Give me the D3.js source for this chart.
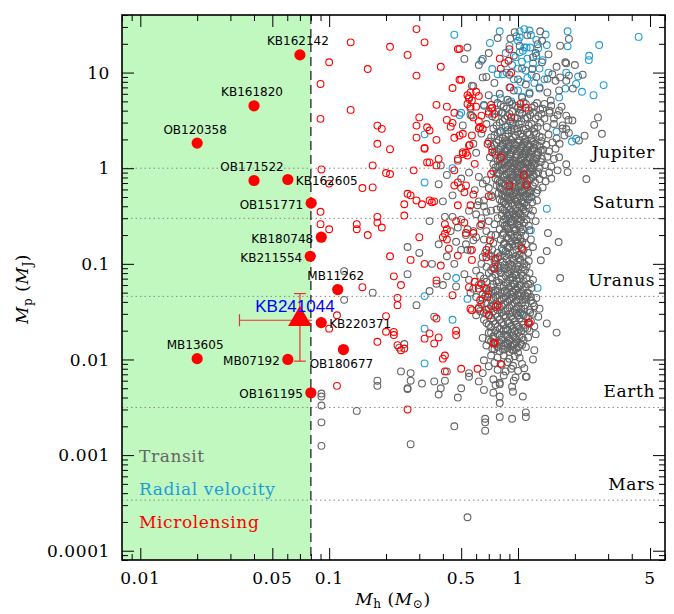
<!DOCTYPE html>
<meta charset="utf-8">
<style>
body { margin: 0; background: #fff; }
.serif { font-family: "DejaVu Serif", serif; font-size: 17px; letter-spacing: 0.6px; }
.name { font-family: "DejaVu Sans", sans-serif; font-size: 12px; fill: #000; }
.planet-line { stroke: #8a8a8a; stroke-width: 1; stroke-dasharray: 1.5,3; }
.tick line { stroke: #000; stroke-width: 1; }
</style>
<body>
<script src="https://d3js.org/d3.v7.min.js"></script>
<script>
var width = 674, height = 614;

// ---- data ----
// microlensing planets hosted by very low-mass stars (named, filled)
var namedLabels = ["KB162142", "KB161820", "OB120358", "OB171522", "KB162605", "OB151771", "KB180748",
                   "KB211554", "MB11262", "KB220371", "MB13605", "MB07192", "OB180677", "OB161195"];
var namedHost   = [0.07, 0.04, 0.02, 0.04, 0.0604, 0.0803, 0.0908, 0.0794, 0.111, 0.0908, 0.02, 0.0604, 0.119, 0.08];
var namedPlanet = [15.3, 4.49, 1.83, 0.744, 0.762, 0.431, 0.19, 0.12, 0.0538, 0.0243, 0.0102, 0.01, 0.0127, 0.00448];
var namedSide   = ["top", "top", "top", "top", "right", "left", "left", "left", "top", "right", "top", "left", "bottom", "left"];

// this event
var thisEvent = {name: "KB241044", mh: 0.07, mp: 0.0257, mhLo: 0.0335, mhHi: 0.081, mpLo: 0.0096, mpHi: 0.0489};

// solar-system reference masses (M_J)
var planetNames  = ["Jupiter", "Saturn", "Uranus", "Earth", "Mars"];
var planetMasses = [1, 0.299, 0.0457, 0.00315, 0.000338];

var brownDwarfLimit = 0.08;

var xTickLabels = [0.01, 0.05, 0.1, 0.5, 1, 5];
var yTickLabels = [0.0001, 0.001, 0.01, 0.1, 1, 10];

// known planets [host mass (Msun), planet mass (MJ)]
var radialVelocity = [
  [0.46,24.9],[0.8,27],[0.71,20.4],[1.02,27],[1.08,28.5],[1.15,27.5],[1.17,24.7],[1.0,21.5],[1.02,23.3],
  [1.08,18.3],[1.11,18.3],[1.16,18.3],[1.06,16.9],[1.02,16.3],[1.83,27],[1.42,19.4],[1.83,18.8],[2.69,19.4],
  [4.35,23.6],[2.38,15],[2.37,13.5],[1.8,10],[2.08,9.1],[2.03,7.6],[2.18,6.3],[2.51,5.8],[2.84,7.4],[1.78,6.8],
  [1.65,5.5],[1.6,2.42],[1.93,1.9],[2.03,2.03],[0.64,13.3],[0.73,10.9],[0.78,9.6],[0.83,9.6],[0.87,10],[0.66,4.5],
  [0.75,5.3],[0.81,5.4],[0.83,3.8],[0.88,2.8],[0.94,3.0],[0.8,2.38],[0.5,3.8],[0.49,3.6],[0.32,2.26],
  [0.97,14.5],[1.05,13],[1.12,14],[1.2,12.5],[1.25,15],[0.93,12],[1.0,11],[1.1,10.5],[1.18,9.5],[1.3,11],
  [0.95,8.5],[1.03,8],[1.12,8.8],[1.22,7.8],[0.9,7],[1.0,6.5],[1.15,6.2],[1.3,6.8],[1.05,5.6],[0.92,5],
  [1.38,8.5],[1.45,10],[1.35,13.5],[1.28,18],[0.86,16],[0.9,19],[0.98,24],[1.25,22],[1.4,25],
  [0.32,0.71],[0.45,1.0],[0.47,0.071],[0.32,0.046],[0.54,0.043],[0.45,0.026],[0.32,0.021],[0.32,0.0091],
  [0.88,0.0147],[1.27,0.056],[1.42,0.377],[1.17,0.224],[0.83,0.138],[0.93,0.073],[0.9,0.3],[1.0,0.9],
  [0.85,1.6],[1.1,1.4],[0.95,0.05],[1.05,0.03],[0.88,0.02],[1.15,0.5],[0.8,0.09]
];

var transit = [
  [0.54,18.3],[0.52,13.9],[0.65,13.9],[0.91,22.7],[1.31,27],[1.34,21.5],[1.27,19.8],[1.67,19.1],[1.86,22.5],
  [1.78,12.8],[1.8,12.5],[1.34,12.8],[1.19,10.9],[1.43,8.6],[1.52,9.6],[1.58,8.2],[1.67,8.9],[1.86,9.3],[1.8,8.2],
  [1.65,6.5],[1.43,6.2],[1.49,5.1],[1.38,4.7],[0.58,7.2],[0.55,5.3],[0.56,3.6],[0.58,1.8],[0.6,1.45],[0.62,12],
  [0.7,16],[0.85,12.5],[0.95,15],[1.05,11],[1.0,8.5],[0.9,9.5],[1.1,7.5],[1.25,9],[0.75,7.8],[0.8,6],[0.95,6.5],
  [1.15,6],[1.3,7],[1.05,5.5],[0.88,5.2],[0.7,5.8],[1.2,14.5],[1.45,15.5],[1.6,11.5],[2.0,12],[1.02,19],[0.78,23],
  [1.12,24.5],[0.96,26.5],[1.24,16],[0.68,9],[2.2,9.5],[1.95,6.8],[1.55,3.3],[0.65,8.9],[0.57,7.3],[0.56,4.2],
  [0.57,3.55],[0.51,2.8],[2.65,3.4],[2.53,2.84],[2.78,2.29],[2.25,2.19],[2.1,1.95],[2.3,0.77],[1.8,1.1],[1.65,1.3],
  [1.83,0.91],[1.47,4],[1.65,4],[1.8,3.55],[1.94,3.15],[1.72,2.8],[1.8,2.57],[1.86,2.34],
  // core, y 2-5
  [0.66,4.6],[0.72,4.2],[0.78,4.8],[0.84,4.4],[0.9,4.9],[0.97,4.5],[1.03,4.1],[1.1,4.7],[1.18,4.3],[1.26,4.8],
  [1.35,4.2],[1.5,4.5],[1.7,4.4],[0.7,3.7],[0.76,3.4],[0.82,3.8],[0.88,3.5],[0.93,3.9],[0.99,3.3],[1.05,3.7],
  [1.12,3.4],[1.2,3.8],[1.28,3.5],[1.38,3.3],[1.47,3.8],[1.62,3.6],[1.85,3.2],[0.68,2.9],[0.74,2.6],[0.8,3.0],
  [0.86,2.7],[0.91,3.1],[0.96,2.6],[1.01,2.9],[1.07,2.5],[1.14,2.8],[1.22,2.6],[1.31,3.0],[1.42,2.7],[1.55,2.9],
  [1.72,2.6],[0.64,2.3],[0.72,2.1],[0.78,2.35],[0.83,2.05],[0.89,2.3],[0.94,2.1],[1.0,2.4],[1.06,2.15],[1.12,2.35],
  [1.18,2.05],[1.25,2.3],[1.34,2.1],[1.45,2.25],[1.6,2.05],[1.76,2.2],
  [0.81,4.6],[0.87,4.2],[0.93,4.7],[1.0,4.3],[1.07,4.9],[1.14,4.0],[1.22,4.5],[1.31,4.1],[0.73,3.5],[0.79,3.9],
  [0.85,3.3],[0.9,3.7],[0.96,3.4],[1.02,3.8],[1.09,3.3],[1.16,3.6],[1.24,3.3],[1.33,3.7],[0.77,2.8],[0.83,3.1],
  [0.88,2.5],[0.93,2.8],[0.99,2.6],[1.04,3.1],[1.1,2.6],[1.18,2.9],[1.27,2.7],[0.75,2.2],[0.81,2.45],[0.86,2.15],
  [0.92,2.5],[0.97,2.2],[1.03,2.3],[1.09,2.0],[1.15,2.25],[1.22,2.4],[1.3,2.15],
  // core, y 1-2
  [0.7,1.9],[0.75,1.75],[0.79,1.95],[0.83,1.8],[0.87,1.92],[0.9,1.7],[0.94,1.85],[0.98,1.72],[1.02,1.95],[1.06,1.78],
  [1.1,1.9],[1.15,1.7],[1.2,1.88],[1.26,1.74],[1.33,1.92],[1.41,1.76],[1.52,1.86],[1.66,1.8],[0.73,1.58],[0.77,1.5],
  [0.81,1.62],[0.85,1.48],[0.88,1.6],[0.92,1.45],[0.96,1.58],[1.0,1.5],[1.04,1.63],[1.08,1.46],[1.12,1.57],[1.17,1.5],
  [1.22,1.62],[1.28,1.47],[1.36,1.56],[1.46,1.5],[1.58,1.6],[0.71,1.3],[0.76,1.38],[0.8,1.25],[0.84,1.35],[0.87,1.22],
  [0.91,1.32],[0.95,1.2],[0.99,1.36],[1.03,1.24],[1.07,1.33],[1.11,1.2],[1.16,1.3],[1.21,1.23],[1.27,1.37],[1.34,1.26],
  [1.43,1.32],[1.55,1.25],[0.74,1.1],[0.78,1.04],[0.82,1.13],[0.86,1.02],[0.89,1.09],[0.93,1.0],[0.97,1.12],[1.01,1.04],
  [1.05,1.1],[1.09,1.01],[1.13,1.08],[1.18,1.03],[1.24,1.12],[1.3,1.02],[1.39,1.08],[1.5,1.04],
  [0.72,1.7],[0.77,1.85],[0.81,1.72],[0.85,1.95],[0.89,1.8],[0.92,1.98],[0.96,1.78],[1.0,1.85],[1.04,1.7],[1.08,1.84],
  [1.13,1.8],[1.18,1.95],[1.23,1.8],[1.3,1.7],[0.75,1.45],[0.79,1.56],[0.83,1.42],[0.87,1.52],[0.9,1.4],[0.94,1.55],
  [0.98,1.42],[1.02,1.54],[1.06,1.4],[1.1,1.52],[1.14,1.42],[1.19,1.55],[1.25,1.42],[1.32,1.52],[0.78,1.2],[0.82,1.3],
  [0.85,1.15],[0.89,1.27],[0.93,1.14],[0.97,1.28],[1.01,1.17],[1.05,1.29],[1.09,1.15],[1.14,1.26],[1.19,1.16],[1.25,1.27],
  [1.32,1.16],[0.76,1.02],[0.8,1.08],[0.84,1.0],[0.88,1.06],[0.91,1.12],[0.95,1.05],[0.99,1.0],[1.03,1.08],[1.07,1.02],
  [1.11,1.12],[1.16,1.0],[1.21,1.07],
  // core, y 0.5-1
  [0.74,0.93],[0.79,0.88],[0.83,0.95],[0.87,0.86],[0.91,0.92],[0.95,0.84],[0.99,0.9],[1.03,0.83],[1.07,0.94],[1.11,0.87],
  [1.16,0.92],[1.21,0.85],[1.28,0.91],[1.36,0.86],[1.46,0.9],[0.76,0.78],[0.8,0.72],[0.84,0.8],[0.88,0.74],[0.92,0.79],
  [0.96,0.71],[1.0,0.77],[1.04,0.72],[1.08,0.8],[1.12,0.73],[1.17,0.78],[1.23,0.71],[1.3,0.77],[1.4,0.73],[0.77,0.66],
  [0.81,0.61],[0.85,0.67],[0.89,0.6],[0.93,0.65],[0.97,0.59],[1.01,0.64],[1.05,0.58],[1.09,0.66],[1.14,0.6],[1.2,0.65],
  [1.27,0.59],[1.35,0.63],[0.79,0.55],[0.83,0.51],[0.87,0.56],[0.91,0.5],[0.95,0.54],[0.99,0.49],[1.03,0.55],[1.07,0.5],
  [1.12,0.54],[1.18,0.5],[1.25,0.55],[0.72,0.52],[1.5,0.78],[1.62,0.95],[0.68,0.75],[0.7,0.62],
  [0.62,0.81],[0.65,0.69],[0.59,0.59],[0.66,0.46],[0.72,0.36],[0.73,0.5],[0.55,0.36],[0.61,0.41],
  [0.77,0.88],[0.81,0.95],[0.85,0.84],[0.89,0.9],[0.93,0.86],[0.97,0.94],[1.01,0.87],[1.05,0.91],[1.09,0.84],[1.14,0.89],
  [1.19,0.95],[1.25,0.87],[0.78,0.74],[0.82,0.7],[0.86,0.76],[0.9,0.7],[0.94,0.75],[0.98,0.8],[1.02,0.7],[1.06,0.76],
  [1.1,0.7],[1.15,0.75],[1.2,0.81],[0.8,0.63],[0.84,0.58],[0.88,0.64],[0.92,0.58],[0.96,0.63],[1.0,0.58],[1.04,0.66],
  [1.08,0.6],[1.12,0.64],[1.17,0.58],[0.82,0.53],[0.86,0.5],[0.9,0.55],[0.94,0.51],[0.98,0.56],[1.02,0.51],[1.06,0.56],
  [1.1,0.51],[1.15,0.55],
  // core, y 0.25-0.5
  [0.8,0.47],[0.84,0.44],[0.88,0.48],[0.92,0.43],[0.96,0.47],[1.0,0.42],[1.04,0.46],[1.08,0.43],[1.13,0.47],[1.19,0.44],
  [1.26,0.46],[0.81,0.39],[0.85,0.36],[0.89,0.4],[0.93,0.35],[0.97,0.38],[1.01,0.34],[1.05,0.39],[1.09,0.35],[1.14,0.38],
  [1.2,0.36],[0.77,0.37],[0.82,0.32],[0.86,0.3],[0.9,0.33],[0.94,0.29],[0.98,0.32],[1.02,0.28],[1.06,0.31],[1.11,0.29],
  [1.17,0.32],[0.78,0.3],[0.83,0.27],[0.87,0.25],[0.91,0.27],[0.95,0.24],[0.99,0.26],[1.03,0.24],[1.08,0.27],[1.14,0.25],
  [0.75,0.26],[1.24,0.28],[0.62,0.45],[0.66,0.4],[0.6,0.33],[0.64,0.3],[0.68,0.35],[0.7,0.28],[0.63,0.25],[0.68,0.22],
  [0.82,0.45],[0.86,0.42],[0.9,0.46],[0.94,0.41],[0.98,0.45],[1.02,0.4],[1.06,0.44],[1.11,0.41],[0.83,0.37],[0.87,0.34],
  [0.91,0.37],[0.95,0.33],[0.99,0.36],[1.03,0.33],[1.07,0.37],[0.84,0.29],[0.88,0.32],[0.92,0.28],[0.96,0.31],[1.0,0.3],
  [1.04,0.29],[0.85,0.25],[0.89,0.23],[0.93,0.26],[0.97,0.23],[1.01,0.25],[1.06,0.23],
  // core, y 0.12-0.25
  [0.8,0.23],[0.84,0.21],[0.88,0.235],[0.92,0.2],[0.96,0.22],[1.0,0.19],[1.04,0.215],[1.09,0.195],[1.15,0.225],[0.76,0.2],
  [0.81,0.18],[0.85,0.165],[0.89,0.185],[0.93,0.16],[0.97,0.175],[1.01,0.155],[1.05,0.17],[1.1,0.16],[1.17,0.18],[0.74,0.165],
  [0.82,0.145],[0.86,0.135],[0.9,0.15],[0.94,0.13],[0.98,0.14],[1.02,0.125],[1.07,0.14],[1.13,0.13],[0.78,0.13],[1.2,0.15],
  [0.54,0.23],[0.58,0.22],[0.6,0.19],[0.53,0.16],[0.56,0.138],[0.65,0.118],[0.7,0.127],[0.75,0.109],[0.78,0.093],[0.68,0.093],
  [0.64,0.1],[0.72,0.2],[0.66,0.18],[0.7,0.15],[0.73,0.14],[0.67,0.13],[0.72,0.12],[1.42,0.136],[1.64,0.169],[1.44,0.21],[1.32,0.109],
  [0.83,0.2],[0.87,0.19],[0.91,0.21],[0.95,0.19],[0.99,0.2],[1.03,0.185],[0.84,0.16],[0.88,0.15],[0.92,0.17],[0.96,0.155],
  [1.0,0.165],[1.04,0.15],[0.8,0.12],[0.85,0.12],[0.89,0.125],[0.93,0.115],[0.97,0.12],[1.01,0.115],[1.06,0.12],
  // core, y 0.05-0.12
  [0.78,0.115],[0.83,0.105],[0.87,0.112],[0.91,0.1],[0.95,0.108],[0.99,0.098],[1.03,0.11],[1.08,0.1],[1.14,0.107],
  [0.74,0.092],[0.79,0.085],[0.84,0.09],[0.88,0.082],[0.92,0.088],[0.96,0.08],[1.0,0.087],[1.04,0.079],[1.09,0.086],
  [1.15,0.08],[0.7,0.08],[0.73,0.072],[0.77,0.066],[0.82,0.07],[0.86,0.064],[0.9,0.069],[0.94,0.062],[0.98,0.067],
  [1.02,0.06],[1.07,0.066],[1.13,0.061],[1.2,0.068],[0.72,0.057],[0.76,0.053],[0.8,0.058],[0.85,0.052],[0.89,0.056],
  [0.93,0.051],[0.97,0.055],[1.01,0.05],[1.06,0.054],[1.12,0.05],[1.18,0.056],[0.68,0.053],
  [0.6,0.085],[0.63,0.075],[0.66,0.07],[0.62,0.06],[0.58,0.055],[0.65,0.048],[0.55,0.068],[0.52,0.078],[0.6,0.045],
  [0.56,0.05],[0.47,0.058],[1.67,0.071],[1.17,0.045],
  [0.76,0.1],[0.81,0.095],[0.85,0.098],[0.89,0.092],[0.93,0.096],[0.97,0.09],[1.01,0.094],[1.06,0.092],[1.11,0.095],
  [0.72,0.086],[0.76,0.078],[0.81,0.08],[0.86,0.075],[0.9,0.078],[0.94,0.072],[0.98,0.076],[1.02,0.071],[1.06,0.075],
  [1.11,0.071],[0.68,0.065],[0.74,0.061],[0.79,0.064],[0.84,0.059],[0.88,0.062],[0.92,0.058],[0.96,0.061],[1.0,0.056],
  [1.04,0.06],[1.1,0.058],[1.16,0.062],[0.66,0.056],[0.7,0.052],[0.74,0.05],[0.78,0.052],[0.82,0.049],[0.87,0.05],
  [0.91,0.048],[0.95,0.05],[0.99,0.047],[1.04,0.049],[1.09,0.047],[1.14,0.049],
  // core, y 0.025-0.05
  [0.7,0.048],[0.74,0.044],[0.78,0.047],[0.82,0.043],[0.86,0.046],[0.9,0.042],[0.94,0.045],[0.98,0.041],[1.02,0.046],
  [1.06,0.042],[1.11,0.045],[1.17,0.041],[1.25,0.044],[0.65,0.043],[0.68,0.039],[0.72,0.036],[0.76,0.038],[0.8,0.035],
  [0.84,0.038],[0.88,0.034],[0.92,0.037],[0.96,0.033],[1.0,0.036],[1.04,0.034],[1.09,0.037],[1.15,0.033],[1.22,0.036],
  [1.3,0.034],[0.62,0.035],[0.66,0.031],[0.7,0.029],[0.74,0.032],[0.78,0.028],[0.82,0.031],[0.86,0.028],[0.9,0.03],
  [0.94,0.027],[0.98,0.03],[1.02,0.027],[1.07,0.029],[1.13,0.027],[1.2,0.03],[1.28,0.028],[0.6,0.029],
  [1.42,0.0238],[1.6,0.0191],[1.24,0.0184],[1.22,0.0125],[1.2,0.01],[1.08,0.0081],[1.11,0.0066],
  [0.67,0.046],[0.72,0.042],[0.76,0.045],[0.8,0.041],[0.84,0.044],[0.88,0.04],[0.92,0.043],[0.96,0.039],[1.0,0.042],
  [1.05,0.039],[1.1,0.042],[1.2,0.039],[0.64,0.038],[0.7,0.034],[0.74,0.037],[0.78,0.033],[0.82,0.036],[0.86,0.032],
  [0.9,0.035],[0.94,0.031],[0.98,0.034],[1.03,0.031],[1.08,0.034],[1.16,0.031],[0.63,0.032],[0.68,0.03],[0.72,0.027],
  [0.76,0.03],[0.8,0.026],[0.84,0.029],[0.88,0.025],[0.92,0.028],[0.96,0.025],[1.0,0.029],[1.05,0.025],[1.1,0.028],
  [1.17,0.025],
  // core, y 0.012-0.025
  [0.68,0.024],[0.72,0.022],[0.76,0.0235],[0.8,0.021],[0.84,0.023],[0.88,0.0205],[0.92,0.0225],[0.96,0.02],[1.0,0.022],
  [1.04,0.0198],[1.09,0.0215],[1.15,0.02],[1.22,0.0222],[0.7,0.019],[0.74,0.0175],[0.78,0.0185],[0.82,0.017],[0.86,0.018],
  [0.9,0.0165],[0.94,0.0178],[0.98,0.0162],[1.02,0.0175],[1.07,0.016],[1.13,0.017],[0.65,0.0168],[0.72,0.0155],[0.76,0.0145],
  [0.8,0.0152],[0.84,0.014],[0.88,0.0148],[0.92,0.0137],[0.96,0.0145],[1.0,0.0134],[1.05,0.0142],[1.1,0.0135],[0.68,0.014],
  [0.75,0.0128],[0.8,0.0122],[0.85,0.0127],[0.9,0.012],[0.95,0.0125],[1.0,0.0118],
  [0.66,0.026],[0.7,0.023],[0.74,0.025],[0.78,0.022],[0.82,0.024],[0.86,0.021],[0.9,0.024],[0.94,0.021],[0.98,0.023],
  [1.02,0.021],[1.07,0.023],[1.12,0.021],[0.72,0.019],[0.76,0.02],[0.8,0.018],[0.84,0.02],[0.88,0.0175],[0.92,0.019],
  [0.96,0.017],[1.0,0.019],[1.05,0.017],[0.7,0.016],[0.74,0.0165],[0.78,0.015],[0.82,0.016],[0.86,0.0148],[0.9,0.0158],
  [0.94,0.0142],[0.98,0.015],[1.03,0.0145],[0.73,0.013],[0.78,0.0135],[0.83,0.0128],[0.88,0.0132],[0.93,0.0126],[0.98,0.013],
  // low-mass tail
  [0.72,0.011],[0.78,0.0105],[0.84,0.011],[0.9,0.0102],[0.96,0.0108],[1.02,0.0104],[0.66,0.0098],[0.75,0.0092],[0.82,0.0088],
  [0.88,0.0094],[0.94,0.0086],[1.05,0.009],[0.7,0.0085],[0.78,0.0078],[0.86,0.0075],[0.92,0.008],[1.0,0.0076],[0.65,0.0072],
  [0.84,0.0068],[0.97,0.0065],[1.1,0.0066],[0.74,0.0062],[0.62,0.0059],[0.95,0.006],[0.8,0.0057],[0.55,0.0072],[0.55,0.0066],
  [0.66,0.0048],[0.74,0.0045],[0.76,0.0054],[0.8,0.0055],[0.93,0.0052],[0.94,0.0046],[0.8,0.0041],[0.8,0.0035],[1.06,0.0041],
  [0.67,0.0024],[0.67,0.0022],[0.67,0.0018],[0.8,0.0025],[0.93,0.0024],[1.1,0.0028],[1.1,0.0025],[0.46,0.002],[0.48,0.004],
  [0.5,0.005],[0.38,0.0043],[0.39,0.005],[0.41,0.006],[0.42,0.0075],[0.36,0.0059],[0.31,0.0056],[0.27,0.0072],[0.27,0.006],
  [0.24,0.0075],[0.26,0.0049],[0.27,0.0013],[0.18,0.006],[0.18,0.0053],[0.14,0.0029],[0.091,0.0044],[0.091,0.0041],
  [0.091,0.0033],[0.091,0.0022],[0.091,0.00125],[0.54,0.000224],
  // sparse, lower-mass hosts
  [0.39,1.07],[0.38,0.68],[0.34,0.28],[0.41,0.31],[0.26,0.15],[0.5,0.14],[0.54,0.14],[0.58,0.176],[0.26,0.078],
  [0.42,0.074],[0.37,0.062],[0.4,0.06],[0.17,0.05],[0.12,0.084],[0.12,0.042],[0.29,0.037],[0.34,0.052],[0.36,0.028],
  [0.235,0.0133],[0.25,0.0145],[0.26,0.005],[0.5,0.29],[0.48,0.24],[0.45,0.31],[0.53,0.2],[0.47,0.17],[0.44,0.22],
  [0.42,0.12],[0.46,0.1],[0.38,0.16],[0.35,0.1],[0.3,0.13],[0.4,0.45],[0.45,0.52],[0.5,0.62],[0.42,0.85],[0.55,0.9],
  [0.48,1.2],[0.5,0.78]
];

var microlensing = [
  [0.29,28.5],[0.13,20.7],[0.21,18.6],[0.32,20.7],[0.26,15.3],[0.1,12.8],[0.16,10.9],[0.39,11.5],[0.48,17.6],[0.29,9.3],
  [0.09,7.6],[0.49,8.4],[0.45,6.9],[0.37,4.6],[0.42,4.4],[0.13,4.07],[0.09,3.28],[0.3,3.4],[0.46,3.8],[0.42,3.2],
  [0.45,2.98],[0.18,2.79],[0.19,2.58],[0.29,2.79],[0.33,2.68],[0.34,2.48],[0.44,2.72],[0.29,2.09],[0.37,1.98],[0.46,2.08],
  [0.49,2.2],[0.18,1.8],[0.21,1.58],[0.32,1.6],[0.51,1.47],[0.53,1.45],[0.555,1.75],[0.49,17.7],[0.9,17.6],[0.8,14],
  [0.89,13.3],[0.81,11],[0.92,10],[0.5,8.4],[0.91,7.0],[0.56,6.2],[0.62,5.7],[0.55,5.5],[0.54,4.7],[0.57,5.1],[0.73,4.3],
  [0.75,3.7],[0.64,3.55],[1.03,4.7],[1.1,4.3],[0.92,3.4],[0.62,2.6],[0.65,2.57],[0.51,2.29],[0.57,2.2],[0.69,1.8],
  [0.55,1.73],[0.73,1.47],[0.7,3.9],[0.72,4.6],[0.54,5.8],[0.6,6.3],[0.56,4.4],[0.6,4.4],[0.58,3.4],[0.63,2.7],[0.62,3.1],
  [0.17,1.07],[0.2,0.89],[0.21,0.87],[0.28,0.95],[0.15,0.62],[0.17,0.63],[0.09,0.35],[0.09,0.26],[0.1,0.23],[0.14,0.26],
  [0.14,0.23],[0.16,0.2],[0.18,0.31],[0.18,0.27],[0.19,0.24],[0.25,0.32],[0.25,0.42],[0.26,0.54],[0.27,0.52],[0.29,0.46],
  [0.31,0.42],[0.34,0.46],[0.35,0.44],[0.36,0.45],[0.21,0.12],[0.27,0.11],[0.32,0.1],[0.39,0.096],[0.22,0.074],[0.24,0.06],
  [0.23,0.044],[0.23,0.037],[0.15,0.057],[0.3,0.19],[0.41,0.26],[0.42,0.23],[0.4,0.19],[0.42,0.18],[0.41,0.206],[0.43,0.144],
  [0.33,1.15],[0.37,1.07],[0.38,1.25],[0.48,1.25],[0.51,1.41],[0.54,1.36],[0.59,1.11],[0.46,0.95],[0.48,0.71],[0.091,0.97],
  [0.32,1.63],[0.34,1.15],[0.1,0.69],
  [0.48,0.41],[0.56,0.41],[0.58,0.53],[0.52,0.56],[0.46,0.66],[0.53,0.66],[0.7,0.51],[0.47,0.28],[0.52,0.27],[0.53,0.21],
  [0.58,0.21],[0.64,0.26],[0.71,0.176],[0.68,0.14],[0.57,0.14],[0.48,0.122],[0.57,0.11],[0.68,0.117],[0.76,0.113],[0.75,0.089],
  [0.37,0.067],[0.45,0.047],[0.55,0.057],[0.59,0.065],[0.62,0.055],[0.64,0.062],[0.69,0.045],[0.68,0.055],[0.56,0.034],
  [0.62,0.034],[0.68,0.033],[0.76,0.0355],[0.78,0.037],[0.2,0.0284],[0.22,0.0194],[0.23,0.0141],[0.32,0.0165],[0.36,0.0147],
  [0.41,0.011],[0.41,0.0075],[0.5,0.008],[0.47,0.018],[0.47,0.02],[1.05,0.144],[1.15,0.024],[0.74,0.0147],[0.81,0.009],
  [0.11,0.0053],[0.26,0.003],[0.18,0.0153],[0.22,0.018],[0.25,0.013],[0.24,0.0125],[0.2,0.0195],[0.37,0.0268],[0.38,0.017],
  [0.34,0.0187],[0.4,0.0102],[0.61,0.008],[0.75,0.015],[0.57,0.0328],[0.63,0.0416],[0.7,0.0292],[1.13,0.0242],
  [0.81,1.3],[1.07,0.85],[1.11,0.67],[0.9,0.66],[0.72,0.87],[0.1,0.021],[0.11,0.029]
];

// ---- chart ----
var svg = d3.select("body").append("svg")
    .attr("width", width)
    .attr("height", height);

var x = d3.scaleLog().domain([0.008, 6]).range([122, 665]);
var y = d3.scaleLog().domain([8e-5, 40]).range([560, 15]);
var x0 = x.range()[0], x1 = x.range()[1], y0 = y.range()[0], y1 = y.range()[1];

function logTicks(scale) {
    var d = scale.domain(), out = [];
    for (var e = Math.floor(Math.log10(d[0])); e <= Math.ceil(Math.log10(d[1])); e++) {
        for (var m = 1; m < 10; m++) {
            var v = m * Math.pow(10, e);
            if (v >= d[0] && v <= d[1]) out.push({v: v, m: m});
        }
    }
    return out;
}
var xt = logTicks(x), yt = logTicks(y);
var xMajor = xt.filter(function(t) { return t.m == 1 || t.m == 5; }).map(function(t) { return t.v; });
var xMinor = xt.filter(function(t) { return !(t.m == 1 || t.m == 5); }).map(function(t) { return t.v; });
var yMajor = yt.filter(function(t) { return t.m == 1; }).map(function(t) { return t.v; });
var yMinor = yt.filter(function(t) { return t.m != 1; }).map(function(t) { return t.v; });

// brown dwarf host region
svg.append("rect")
    .attr("x", x0).attr("y", y1)
    .attr("width", x(brownDwarfLimit) - x0)
    .attr("height", y0 - y1)
    .attr("fill", "#c0f8c0");

// planet reference lines
svg.selectAll(".planet-line").data(planetMasses).enter().append("line")
    .attr("class", "planet-line")
    .attr("x1", x0).attr("x2", x1)
    .attr("y1", function(d) { return y(d); })
    .attr("y2", function(d) { return y(d); });

svg.selectAll(".planet-name").data(planetNames).enter().append("text")
    .attr("class", "serif")
    .attr("text-anchor", "end")
    .attr("x", 655)
    .attr("y", function(d, i) { return y(planetMasses[i]) - 10; })
    .text(function(d) { return d; });

// open circles
function drawSet(data, color) {
    svg.append("g").selectAll("circle").data(data).enter().append("circle")
        .attr("cx", function(d) { return x(d[0]); })
        .attr("cy", function(d) { return y(d[1]); })
        .attr("r", 3.4)
        .attr("fill", "none")
        .attr("stroke", color)
        .attr("stroke-width", 1.1);
}
drawSet(radialVelocity, "#1f9dd6");
drawSet(transit, "#646464");
drawSet(microlensing, "#ff0000");

// dashed limit line
svg.append("line")
    .attr("x1", x(brownDwarfLimit)).attr("x2", x(brownDwarfLimit))
    .attr("y1", y1).attr("y2", y0)
    .attr("stroke", "#333")
    .attr("stroke-width", 1.4)
    .attr("stroke-dasharray", "9,5");

// named microlensing hosts
svg.append("g").selectAll("circle").data(namedLabels).enter().append("circle")
    .attr("cx", function(d, i) { return x(namedHost[i]); })
    .attr("cy", function(d, i) { return y(namedPlanet[i]); })
    .attr("r", 5.6)
    .attr("fill", "#ff0000");

svg.append("g").selectAll("text").data(namedLabels).enter().append("text")
    .attr("class", "name")
    .attr("x", function(d, i) {
        var px = x(namedHost[i]), s = namedSide[i];
        return s == "left" ? px - 8 : s == "right" ? px + 8 : px - 2;
    })
    .attr("y", function(d, i) {
        var py = y(namedPlanet[i]), s = namedSide[i];
        return s == "top" ? py - 9.5 : s == "bottom" ? py + 18 : py + 5.5;
    })
    .attr("text-anchor", function(d, i) {
        var s = namedSide[i];
        return s == "left" ? "end" : s == "right" ? "start" : "middle";
    })
    .text(function(d) { return d; });

// this event with error bars
var ev = svg.append("g").attr("stroke", "#f03030").attr("stroke-width", 1.2);
ev.append("line").attr("x1", x(thisEvent.mhLo)).attr("x2", x(thisEvent.mhHi))
    .attr("y1", y(thisEvent.mp)).attr("y2", y(thisEvent.mp));
ev.append("line").attr("x1", x(thisEvent.mhLo)).attr("x2", x(thisEvent.mhLo))
    .attr("y1", y(thisEvent.mp) - 6).attr("y2", y(thisEvent.mp) + 6);
ev.append("line").attr("x1", x(thisEvent.mh)).attr("x2", x(thisEvent.mh))
    .attr("y1", y(thisEvent.mpLo)).attr("y2", y(thisEvent.mpHi));
[thisEvent.mpLo, thisEvent.mpHi].forEach(function(v) {
    ev.append("line").attr("x1", x(thisEvent.mh) - 6).attr("x2", x(thisEvent.mh) + 6)
        .attr("y1", y(v)).attr("y2", y(v));
});
svg.append("path")
    .attr("d", d3.symbol().type(d3.symbolTriangle).size(240)())
    .attr("transform", "translate(" + x(thisEvent.mh) + "," + (y(thisEvent.mp) - 1) + ")")
    .attr("fill", "#ff0000");
svg.append("text")
    .attr("x", x(thisEvent.mh) - 5)
    .attr("y", y(thisEvent.mp) - 8)
    .attr("text-anchor", "middle")
    .attr("font-family", "Liberation Sans, sans-serif")
    .attr("font-size", 17)
    .attr("fill", "#0000ff")
    .text(thisEvent.name);

// legend
var legend = [["Transit", "#666"], ["Radial velocity", "#1f9dd6"], ["Microlensing", "#ff0000"]];
svg.selectAll(".legend").data(legend).enter().append("text")
    .attr("class", "serif")
    .attr("x", 139)
    .attr("y", function(d, i) { return 462 + i * 33; })
    .attr("fill", function(d) { return d[1]; })
    .text(function(d) { return d[0]; });

// axes (ticks inward on all sides)
function ax(gen, tr, vals, size) {
    var g = svg.append("g").attr("transform", tr)
        .call(gen.tickValues(vals).tickSize(size).tickFormat(""));
    g.select(".domain").remove();
    return g;
}
ax(d3.axisBottom(x), "translate(0," + y0 + ")", xMajor, -12);
ax(d3.axisBottom(x), "translate(0," + y0 + ")", xMinor, -6);
ax(d3.axisTop(x), "translate(0," + y1 + ")", xMajor, -12);
ax(d3.axisTop(x), "translate(0," + y1 + ")", xMinor, -6);
ax(d3.axisLeft(y), "translate(" + x0 + ",0)", yMajor, -12);
ax(d3.axisLeft(y), "translate(" + x0 + ",0)", yMinor, -6);
ax(d3.axisRight(y), "translate(" + x1 + ",0)", yMajor, -12);
ax(d3.axisRight(y), "translate(" + x1 + ",0)", yMinor, -6);

svg.append("g").selectAll("text").data(xTickLabels).enter().append("text")
    .attr("class", "serif")
    .attr("text-anchor", "middle")
    .attr("x", function(d) { return x(d); })
    .attr("y", 584)
    .text(function(d) { return d; });

svg.append("g").selectAll("text").data(yTickLabels).enter().append("text")
    .attr("class", "serif")
    .attr("text-anchor", "end")
    .attr("x", 110)
    .attr("y", function(d) { return y(d); })
    .attr("dy", "0.36em")
    .text(function(d) { return d; });

svg.append("rect")
    .attr("x", x0).attr("y", y1)
    .attr("width", x1 - x0).attr("height", y0 - y1)
    .attr("fill", "none").attr("stroke", "#000").attr("stroke-width", 1.6);

// axis titles
var xl = svg.append("text").attr("class", "serif").attr("x", 393).attr("y", 605).attr("text-anchor", "middle");
xl.append("tspan").attr("font-style", "italic").text("M");
xl.append("tspan").attr("font-size", 12).attr("dy", 3).text("h");
xl.append("tspan").attr("dy", -3).text("  (");
xl.append("tspan").attr("font-style", "italic").text("M");
xl.append("tspan").attr("font-size", 12).attr("dy", 3).text("\u2299");
xl.append("tspan").attr("dy", -3).text(")");

var yl = svg.append("text").attr("class", "serif")
    .attr("transform", "translate(28,289) rotate(-90)")
    .attr("text-anchor", "middle");
yl.append("tspan").attr("font-style", "italic").text("M");
yl.append("tspan").attr("font-size", 12).attr("dy", 4).text("p");
yl.append("tspan").attr("dy", -4).text("  (");
yl.append("tspan").attr("font-style", "italic").text("M");
yl.append("tspan").attr("font-size", 12).attr("dy", 4).text("J");
yl.append("tspan").attr("dy", -4).text(")");
</script>
</body>
</html>
